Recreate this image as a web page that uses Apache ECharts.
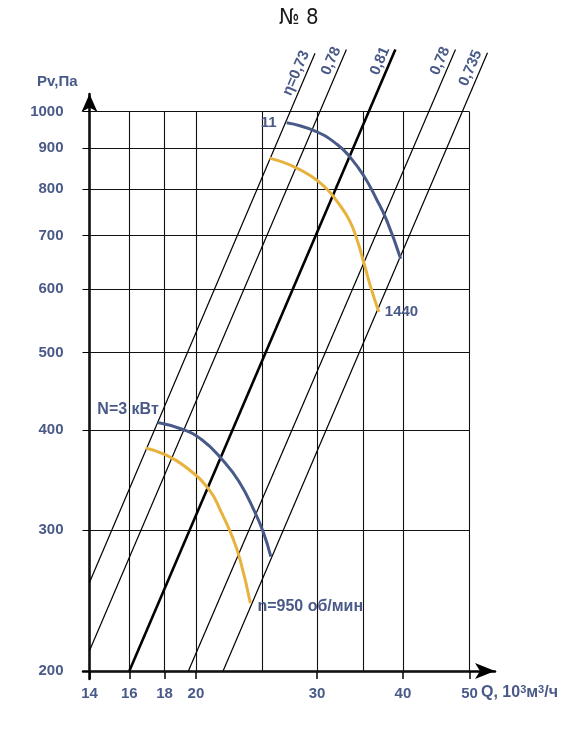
<!DOCTYPE html>
<html>
<head>
<meta charset="utf-8">
<title>№ 8</title>
<script src="https://cdn.jsdelivr.net/npm/echarts@6/dist/echarts.min.js"></script>
<style>
    html, body { margin: 0; padding: 0; background: #fff; }
    #main { width: 580px; height: 731px; }
</style>
</head>
<body>
<div id="main"></div>
<script>
// axis ticks / grid
var qLabels = [14, 16, 18, 20, 30, 40, 50];
var qGrid = [14, 16, 18, 20, 25, 30, 35, 40, 50];
var pGrid = [200, 300, 400, 500, 600, 700, 800, 900, 1000];

// efficiency lines (start / end points)
var etaNames = ['η=0,73', '0,78', '0,81', '0,78', '0,735'];
var etaStart = [[14, 258], [14, 212], [16, 200], [19.5, 200], [21.9, 200]];
var etaEnd = [[29.8, 1183], [33.1, 1196], [39.0, 1196], [47.7, 1196], [53.1, 1185]];

// n=1440
var n1440PowerQ = [27.1, 29.7, 32.1, 33.6, 35.1, 36.6, 37.9, 39.7];
var n1440PowerP = [969, 947, 910, 875, 831, 778, 731, 655];
var n1440PressQ = [25.6, 27.5, 29.4, 30.9, 32.1, 33.4, 34.3, 35.1, 35.9, 36.9];
var n1440PressP = [875, 857, 831, 803, 772, 733, 692, 647, 604, 562];

// n=950
var n950PowerQ = [17.6, 19.1, 20.4, 21.8, 23.1, 24.4, 25.1, 25.7];
var n950PowerP = [409, 401, 389, 368, 345, 315, 297, 278];
var n950PressQ = [16.9, 18.0, 19.3, 20.9, 21.8, 22.6, 23.2, 24.0];
var n950PressP = [380, 373, 360, 337, 315, 294, 275, 243];

var textColor = '#4a5a88';
var blue = '#475a88';
var orange = '#e8b23e';
var font = 'Liberation Sans, Arial, sans-serif';

function lg(v){ return Math.log10(v); }
function pt(q, p){ return [lg(q), lg(p)]; }
function $each(arr, fn){ for (var i = 0; i < arr.length; i++) fn(i, arr[i]); }
function $extend(a, b){ for (var k in b) a[k] = b[k]; return a; }

function curve(qs, ps, labels){
    var data = [];
    $each(qs, function(i, q){
        var item = { value: pt(q, ps[i]) };
        if (labels[i]) {
            item.label = $extend({ show: true }, labels[i]);
        }
        data.push(item);
    });
    return data;
}

var gridLines = [];
$each(qGrid, function(i, q){ gridLines.push({ coords: [pt(q, 200), pt(q, 1000)] }); });
$each(pGrid, function(i, p){ gridLines.push({ coords: [pt(14, p), pt(50, p)] }); });

var etaLines = [];
$each(etaNames, function(i, n){
    etaLines.push({
        name: n,
        coords: [pt(etaStart[i][0], etaStart[i][1]), pt(etaEnd[i][0], etaEnd[i][1])],
        lineStyle: { width: i == 2 ? 2.6 : 1.2 }
    });
});

var lblStyle = { color: textColor, fontSize: 15, fontWeight: 'bold', fontFamily: font };

function curveSeries(qs, ps, color, labels){
    return {
        type: 'line',
        data: curve(qs, ps, labels),
        smooth: 0.5,
        symbol: 'circle',
        symbolSize: 0,
        showSymbol: true,
        lineStyle: { color: color, width: 3 },
        itemStyle: { color: color },
        label: $extend({ show: false }, lblStyle),
        silent: true,
        z: 5
    };
}

var myChart = echarts.init(document.getElementById('main'));
var option = {
    animation: false,
    title: {
        text: '№ 8',
        left: 274,
        top: 2,
        textStyle: { fontFamily: 'DejaVu Sans Condensed, Liberation Sans Narrow, sans-serif', fontSize: 22, fontWeight: 'normal', color: '#1a1a1a' }
    },
    grid: { left: 83, right: 85, top: 94, bottom: 52, containLabel: false },
    xAxis: {
        type: 'value',
        min: lg(13.7),
        max: lg(54.45),
        offset: -8,
        axisLine: { onZero: false, symbol: ['none', 'arrow'], symbolSize: [12, 20], lineStyle: { color: '#000', width: 2.5 } },
        axisTick: { show: true, customValues: qLabels.map(lg), length: 8, lineStyle: { color: '#000', width: 1.5 } },
        axisLabel: {
            customValues: qLabels.map(lg),
            margin: 15,
            formatter: function(v){ return Math.round(Math.pow(10, v)); },
            color: textColor, fontSize: 15, fontWeight: 'bold', fontFamily: font
        },
        splitLine: { show: false },
        name: 'Q, 10{s|3}м{s|3}/ч',
        nameLocation: 'end',
        nameGap: -14,
        nameMoveOverlap: false,
        nameTextStyle: {
            align: 'left', verticalAlign: 'top', padding: [13, 0, 0, 0],
            color: textColor, fontSize: 16, fontWeight: 'bold', fontFamily: font, lineHeight: 18,
            rich: { s: { fontSize: 11, fontWeight: 'bold', color: textColor, fontFamily: font, verticalAlign: 'top', lineHeight: 10 } }
        }
    },
    yAxis: {
        type: 'value',
        min: lg(195.45),
        max: lg(1052.3),
        offset: -6.5,
        axisLine: { onZero: false, symbol: ['none', 'arrow'], symbolSize: [12, 18], lineStyle: { color: '#000', width: 2.5 } },
        axisTick: { show: true, customValues: pGrid.map(lg), length: 7, lineStyle: { color: '#000', width: 1 } },
        axisLabel: {
            customValues: pGrid.map(lg),
            margin: 26,
            formatter: function(v){ return Math.round(Math.pow(10, v)); },
            color: textColor, fontSize: 15, fontWeight: 'bold', fontFamily: font
        },
        splitLine: { show: false },
        name: 'Pv,Па',
        nameLocation: 'end',
        nameGap: 12,
        nameMoveOverlap: false,
        nameTextStyle: { align: 'right', verticalAlign: 'middle', padding: [0, 12, 0, 0], color: textColor, fontSize: 15, fontWeight: 'bold', fontFamily: font }
    },
    series: [
        {
            type: 'lines',
            coordinateSystem: 'cartesian2d',
            data: gridLines,
            silent: true,
            lineStyle: { color: '#111', width: 1.1, opacity: 1, curveness: 0 },
            z: 1
        },
        {
            type: 'lines',
            coordinateSystem: 'cartesian2d',
            data: etaLines,
            clip: false,
            silent: true,
            lineStyle: { color: '#000', width: 1.2, opacity: 1, curveness: 0 },
            label: $extend({ show: true, position: 'insideEndTop', formatter: '{b}', distance: 2 }, $extend({}, lblStyle)),
            z: 2
        },
        curveSeries(n1440PowerQ, n1440PowerP, blue, { 0: { formatter: '11', position: 'left', distance: 10 } }),
        curveSeries(n1440PressQ, n1440PressP, orange, { 9: { formatter: '1440', position: 'right', distance: 6 } }),
        curveSeries(n950PowerQ, n950PowerP, blue, { 0: { formatter: 'N=3 кВт', position: 'left', distance: -1, offset: [0, -13], fontSize: 16 } }),
        curveSeries(n950PressQ, n950PressP, orange, { 7: { formatter: 'n=950 об/мин', position: 'right', distance: 7, offset: [0, 3], fontSize: 16 } })
    ]
};
myChart.setOption(option);
</script>
</body>
</html>
